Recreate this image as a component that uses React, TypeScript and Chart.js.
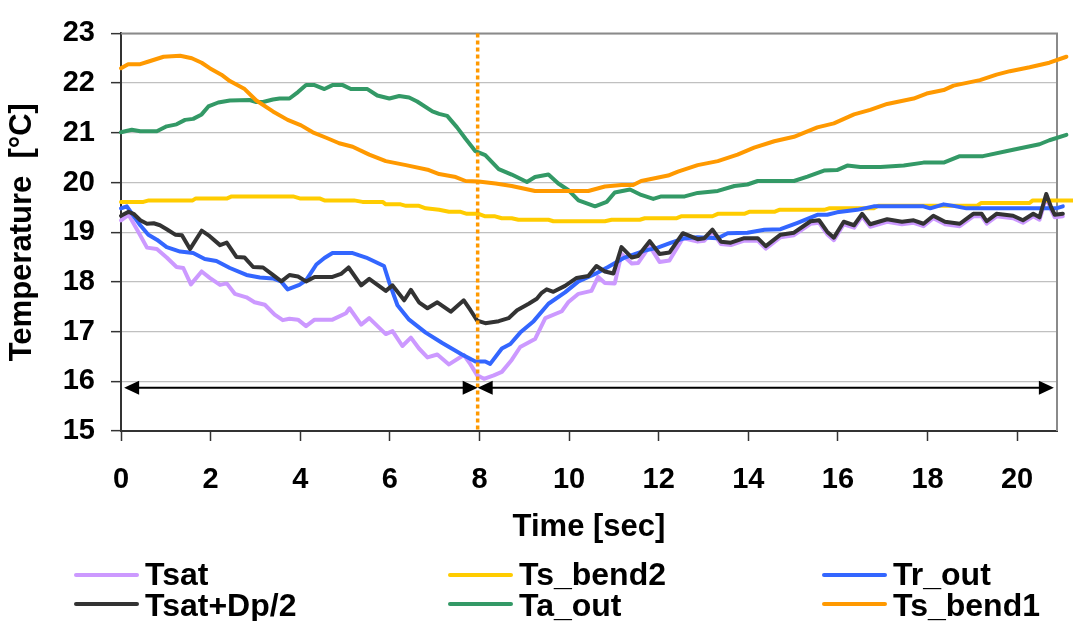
import React, { useEffect, useRef } from 'react';
import { Chart, registerables } from 'chart.js';

Chart.register(...registerables);

// ---------- data ----------
const X_TICKS = [0, 2, 4, 6, 8, 10, 12, 14, 16, 18, 20];
const Y_TICKS = [15, 16, 17, 18, 19, 20, 21, 22, 23];
const X_MIN = 0;
const X_MAX = 20.89;
const Y_MIN = 15;
const Y_MAX = 23;
const MARKER_T = 7.96;
const ARROW_Y = 15.87;
const ARROW_SPANS = [
  [0.07, 7.96],
  [7.96, 20.82],
];

const TSB1_T = [0, 0.16, 0.43, 0.6, 0.95, 1.32, 1.58, 1.8, 1.98, 2.24, 2.43, 2.76, 3.02, 3.39, 3.72, 4.02, 4.28, 4.58, 4.87, 5.17, 5.54, 5.91, 6.36, 6.87, 7.1, 7.47, 7.69, 7.98, 8.36, 8.72, 9.24, 9.69, 10.43, 10.8, 11.17, 11.43, 11.61, 12.21, 12.43, 12.87, 13.32, 13.76, 14.13, 14.58, 15.02, 15.54, 15.91, 16.36, 16.72, 17.1, 17.69, 17.98, 18.36, 18.58, 19.17, 19.54, 19.84, 20.28, 20.72, 21.1, 21.3];
const TSB1_V = [22.30, 22.38, 22.38, 22.43, 22.53, 22.55, 22.50, 22.41, 22.30, 22.17, 22.04, 21.88, 21.65, 21.43, 21.26, 21.15, 21.01, 20.90, 20.79, 20.72, 20.56, 20.43, 20.35, 20.25, 20.17, 20.11, 20.03, 20.02, 19.98, 19.93, 19.83, 19.83, 19.83, 19.92, 19.95, 19.95, 20.03, 20.14, 20.22, 20.35, 20.43, 20.56, 20.70, 20.83, 20.92, 21.11, 21.19, 21.37, 21.46, 21.58, 21.69, 21.79, 21.86, 21.95, 22.06, 22.17, 22.24, 22.32, 22.41, 22.53, 22.58];

const TA_T = [0, 0.24, 0.43, 0.8, 1.02, 1.24, 1.43, 1.61, 1.8, 1.95, 2.17, 2.43, 2.87, 3.02, 3.17, 3.39, 3.54, 3.76, 3.95, 4.13, 4.32, 4.54, 4.72, 4.95, 5.13, 5.5, 5.72, 5.99, 6.21, 6.43, 6.61, 6.95, 7.1, 7.28, 7.5, 7.69, 7.91, 8.13, 8.43, 8.72, 9.06, 9.24, 9.54, 9.76, 9.98, 10.21, 10.58, 10.84, 11.02, 11.36, 11.61, 11.88, 12.06, 12.58, 12.87, 13.32, 13.69, 13.98, 14.21, 15.02, 15.32, 15.69, 15.98, 16.21, 16.5, 16.95, 17.47, 17.91, 18.36, 18.72, 19.24, 19.91, 20.5, 20.72, 21.1, 21.3];
const TA_V = [21.01, 21.06, 21.03, 21.03, 21.13, 21.17, 21.26, 21.28, 21.37, 21.53, 21.61, 21.65, 21.66, 21.62, 21.62, 21.67, 21.69, 21.69, 21.82, 21.96, 21.96, 21.88, 21.96, 21.96, 21.88, 21.88, 21.75, 21.69, 21.74, 21.71, 21.63, 21.43, 21.38, 21.34, 21.11, 20.88, 20.63, 20.55, 20.27, 20.16, 20.01, 20.11, 20.16, 19.98, 19.85, 19.64, 19.52, 19.61, 19.80, 19.86, 19.75, 19.67, 19.72, 19.72, 19.79, 19.83, 19.93, 19.96, 20.03, 20.03, 20.12, 20.24, 20.25, 20.34, 20.31, 20.31, 20.34, 20.40, 20.40, 20.53, 20.53, 20.66, 20.77, 20.85, 20.96, 21.0];

const TSB2_T = [0, 0.5, 0.62, 1.6, 1.67, 2.37, 2.47, 3.84, 3.99, 4.43, 4.54, 5.2, 5.39, 5.84, 5.91, 6.24, 6.36, 6.65, 6.8, 7.1, 7.32, 7.58, 7.72, 7.98, 8.13, 8.35, 8.5, 8.72, 8.87, 9.54, 9.65, 10.8, 10.95, 11.58, 11.69, 12.39, 12.5, 13.2, 13.32, 13.91, 14.02, 14.58, 14.69, 15.69, 15.8, 16.8, 16.9, 19.1, 19.2, 20.28, 20.35, 21.3];
const TSB2_V = [19.61, 19.61, 19.64, 19.64, 19.68, 19.68, 19.72, 19.72, 19.68, 19.68, 19.64, 19.64, 19.61, 19.61, 19.56, 19.56, 19.53, 19.53, 19.48, 19.45, 19.41, 19.41, 19.37, 19.37, 19.32, 19.32, 19.28, 19.28, 19.25, 19.25, 19.22, 19.22, 19.25, 19.25, 19.28, 19.28, 19.32, 19.32, 19.37, 19.37, 19.41, 19.41, 19.45, 19.45, 19.48, 19.48, 19.53, 19.53, 19.59, 19.59, 19.64, 19.64];

const TR_T = [0, 0.13, 0.28, 0.43, 0.61, 0.8, 1.02, 1.32, 1.61, 1.87, 2.13, 2.43, 2.8, 3.1, 3.39, 3.57, 3.72, 3.98, 4.13, 4.36, 4.54, 4.72, 5.17, 5.47, 5.87, 5.99, 6.17, 6.43, 6.8, 7.17, 7.61, 7.91, 8.13, 8.24, 8.5, 8.69, 8.91, 9.21, 9.54, 9.91, 10.21, 10.58, 10.87, 11.24, 11.69, 11.98, 12.28, 12.58, 12.87, 13.32, 13.54, 13.98, 14.36, 14.72, 15.1, 15.54, 15.76, 15.98, 16.43, 16.8, 17.91, 18.06, 18.36, 18.58, 18.87, 20.87, 21.02, 21.12, 21.3];
const TR_V = [19.48, 19.52, 19.33, 19.14, 18.95, 18.85, 18.70, 18.61, 18.58, 18.46, 18.42, 18.28, 18.14, 18.09, 18.07, 18.01, 17.85, 17.94, 18.03, 18.35, 18.48, 18.58, 18.58, 18.49, 18.32, 17.98, 17.53, 17.24, 16.98, 16.77, 16.54, 16.40, 16.40, 16.35, 16.66, 16.75, 16.98, 17.21, 17.56, 17.79, 18.01, 18.16, 18.30, 18.49, 18.63, 18.69, 18.79, 18.88, 18.90, 18.88, 18.98, 18.99, 19.05, 19.06, 19.19, 19.35, 19.35, 19.40, 19.45, 19.52, 19.52, 19.48, 19.56, 19.53, 19.48, 19.48, 19.52, 19.37, 19.30];

const TDP_T = [0, 0.17, 0.28, 0.43, 0.58, 0.73, 0.87, 1.02, 1.21, 1.36, 1.54, 1.8, 1.98, 2.21, 2.36, 2.58, 2.76, 2.95, 3.17, 3.36, 3.58, 3.76, 3.95, 4.13, 4.32, 4.72, 4.91, 5.08, 5.36, 5.54, 5.91, 6.06, 6.32, 6.47, 6.65, 6.84, 7.06, 7.36, 7.65, 7.8, 7.95, 8.13, 8.43, 8.65, 8.84, 9.1, 9.28, 9.39, 9.5, 9.65, 9.91, 10.17, 10.43, 10.61, 10.8, 10.99, 11.17, 11.4, 11.54, 11.8, 12.02, 12.24, 12.54, 12.87, 13.02, 13.2, 13.39, 13.61, 13.91, 14.21, 14.39, 14.72, 15.02, 15.39, 15.58, 15.76, 15.91, 16.13, 16.36, 16.54, 16.72, 17.1, 17.43, 17.69, 17.91, 18.13, 18.39, 18.72, 19.02, 19.21, 19.32, 19.54, 19.91, 20.13, 20.36, 20.5, 20.65, 20.76, 20.84, 21.02, 21.12, 21.3];
const TDP_V = [19.33, 19.41, 19.37, 19.24, 19.17, 19.18, 19.14, 19.06, 18.95, 18.94, 18.66, 19.03, 18.92, 18.74, 18.79, 18.50, 18.49, 18.30, 18.29, 18.16, 18.01, 18.14, 18.11, 18.01, 18.10, 18.10, 18.16, 18.29, 17.93, 18.06, 17.82, 17.93, 17.63, 17.84, 17.59, 17.47, 17.59, 17.40, 17.63, 17.43, 17.22, 17.17, 17.21, 17.27, 17.43, 17.56, 17.66, 17.78, 17.85, 17.80, 17.92, 18.08, 18.12, 18.32, 18.21, 18.17, 18.70, 18.49, 18.52, 18.82, 18.56, 18.59, 18.98, 18.86, 18.88, 19.05, 18.81, 18.79, 18.88, 18.88, 18.72, 18.95, 18.99, 19.22, 19.24, 19.01, 18.89, 19.21, 19.14, 19.37, 19.16, 19.26, 19.21, 19.24, 19.17, 19.33, 19.21, 19.17, 19.37, 19.37, 19.22, 19.37, 19.33, 19.24, 19.37, 19.30, 19.77, 19.50, 19.35, 19.37, 19.28, 19.28];

const TSAT_T = [0, 0.17, 0.36, 0.58, 0.8, 1.02, 1.24, 1.39, 1.56, 1.8, 1.98, 2.21, 2.36, 2.54, 2.8, 2.98, 3.21, 3.43, 3.61, 3.76, 3.95, 4.13, 4.32, 4.72, 5.02, 5.1, 5.36, 5.54, 5.91, 6.06, 6.28, 6.47, 6.65, 6.84, 7.06, 7.32, 7.65, 7.8, 7.95, 8.1, 8.32, 8.5, 8.72, 8.91, 9.24, 9.47, 9.84, 9.98, 10.21, 10.5, 10.65, 10.8, 11.02, 11.17, 11.4, 11.54, 11.8, 12.02, 12.24, 12.54, 12.87, 13.02, 13.2, 13.39, 13.61, 13.91, 14.21, 14.39, 14.72, 15.02, 15.39, 15.58, 15.76, 15.91, 16.13, 16.36, 16.54, 16.72, 17.1, 17.43, 17.69, 17.91, 18.13, 18.39, 18.72, 19.02, 19.21, 19.32, 19.54, 19.91, 20.13, 20.36, 20.5, 20.65, 20.76, 20.84, 21.02, 21.12, 21.3];
const TSAT_V = [19.24, 19.35, 19.05, 18.69, 18.66, 18.49, 18.30, 18.28, 17.95, 18.21, 18.08, 17.94, 17.97, 17.76, 17.69, 17.59, 17.54, 17.34, 17.23, 17.26, 17.24, 17.11, 17.24, 17.24, 17.37, 17.47, 17.14, 17.27, 16.95, 17.01, 16.71, 16.88, 16.66, 16.48, 16.54, 16.34, 16.53, 16.34, 16.12, 16.05, 16.12, 16.19, 16.43, 16.69, 16.85, 17.27, 17.41, 17.59, 17.76, 17.82, 18.10, 17.98, 17.97, 18.56, 18.37, 18.38, 18.72, 18.40, 18.43, 18.88, 18.81, 18.83, 19.00, 18.76, 18.74, 18.83, 18.83, 18.67, 18.90, 18.94, 19.17, 19.19, 18.96, 18.84, 19.16, 19.09, 19.32, 19.11, 19.21, 19.16, 19.19, 19.12, 19.28, 19.16, 19.12, 19.32, 19.32, 19.17, 19.32, 19.28, 19.19, 19.32, 19.25, 19.70, 19.45, 19.30, 19.32, 19.23, 19.23];

// ---------- styles ----------
const C_TSAT = '#CC99FF';
const C_TSB2 = '#FFCC00';
const C_TR = '#3366FF';
const C_TDP = '#333333';
const C_TA = '#339966';
const C_TSB1 = '#FF9900';
const FONT = '"Liberation Sans", Arial, Helvetica, sans-serif';

const pts = (t: number[], v: number[]) => t.map((x, i) => ({ x, y: v[i] }));

const LEGEND = [
  { label: 'Tsat', color: C_TSAT, col: 0, row: 0 },
  { label: 'Ts_bend2', color: C_TSB2, col: 1, row: 0 },
  { label: 'Tr_out', color: C_TR, col: 2, row: 0 },
  { label: 'Tsat+Dp/2', color: C_TDP, col: 0, row: 1 },
  { label: 'Ta_out', color: C_TA, col: 1, row: 1 },
  { label: 'Ts_bend1', color: C_TSB1, col: 2, row: 1 },
];

const overlay = {
  id: 'overlay',
  beforeDatasetsDraw(chart: any) {
    const { ctx, chartArea: a } = chart;
    ctx.save();
    ctx.strokeStyle = '#8a8a8a';
    ctx.lineWidth = 2;
    ctx.beginPath();
    ctx.moveTo(a.left, a.top);
    ctx.lineTo(a.right, a.top);
    ctx.lineTo(a.right, a.bottom);
    ctx.stroke();
    ctx.restore();
  },
  afterDatasetsDraw(chart: any) {
    const { ctx, chartArea: a, scales } = chart;
    const x = scales.x;
    const y = scales.y;
    ctx.save();
    const mx = x.getPixelForValue(MARKER_T);
    ctx.strokeStyle = C_TSB1;
    ctx.lineWidth = 3.5;
    ctx.setLineDash([4, 3]);
    ctx.beginPath();
    ctx.moveTo(mx, a.top);
    ctx.lineTo(mx, a.bottom);
    ctx.stroke();
    ctx.setLineDash([]);
    const ay = y.getPixelForValue(ARROW_Y);
    const hl = 15;
    const hw = 7;
    ctx.strokeStyle = '#000';
    ctx.fillStyle = '#000';
    ctx.lineWidth = 2;
    ARROW_SPANS.forEach(([t1, t2]) => {
      const x1 = x.getPixelForValue(t1);
      const x2 = x.getPixelForValue(t2);
      ctx.beginPath();
      ctx.moveTo(x1 + hl - 2, ay);
      ctx.lineTo(x2 - hl + 2, ay);
      ctx.stroke();
      ctx.beginPath();
      ctx.moveTo(x1, ay);
      ctx.lineTo(x1 + hl, ay - hw);
      ctx.lineTo(x1 + hl, ay + hw);
      ctx.closePath();
      ctx.fill();
      ctx.beginPath();
      ctx.moveTo(x2, ay);
      ctx.lineTo(x2 - hl, ay - hw);
      ctx.lineTo(x2 - hl, ay + hw);
      ctx.closePath();
      ctx.fill();
    });
    ctx.restore();
  },
  afterDraw(chart: any) {
    const { ctx } = chart;
    const colX = [75, 449, 823];
    const lineY = [575, 604];
    const baseY = [585, 616];
    ctx.save();
    ctx.font = `bold 32px ${FONT}`;
    ctx.textBaseline = 'alphabetic';
    ctx.textAlign = 'left';
    LEGEND.forEach((it) => {
      const x0 = colX[it.col];
      ctx.strokeStyle = it.color;
      ctx.lineWidth = 4;
      ctx.lineCap = 'round';
      ctx.beginPath();
      ctx.moveTo(x0 + 1, lineY[it.row]);
      ctx.lineTo(x0 + 62, lineY[it.row]);
      ctx.stroke();
      ctx.fillStyle = '#000';
      ctx.fillText(it.label, x0 + 70, baseY[it.row]);
    });
    ctx.restore();
  },
};

export default function App() {
  const ref = useRef<HTMLCanvasElement | null>(null);

  useEffect(() => {
    if (!ref.current) return;
    const mk = (label: string, t: number[], v: number[], color: string) => ({
      label,
      data: pts(t, v),
      borderColor: color,
      backgroundColor: color,
      borderWidth: 4,
      pointRadius: 0,
      tension: 0,
      fill: false,
      clip: false as any,
      borderJoinStyle: 'round' as const,
      borderCapStyle: 'round' as const,
    });
    const chart = new Chart(ref.current, {
      type: 'line',
      data: {
        datasets: [
          mk('Ts_bend1', TSB1_T, TSB1_V, C_TSB1),
          mk('Ta_out', TA_T, TA_V, C_TA),
          mk('Tsat+Dp/2', TDP_T, TDP_V, C_TDP),
          mk('Tr_out', TR_T, TR_V, C_TR),
          mk('Ts_bend2', TSB2_T, TSB2_V, C_TSB2),
          mk('Tsat', TSAT_T, TSAT_V, C_TSAT),
        ],
      },
      options: {
        responsive: false,
        animation: false,
        devicePixelRatio: 1,
        layout: { padding: { left: 0, top: 17, right: 16, bottom: 70 } },
        plugins: {
          legend: { display: false },
          tooltip: { enabled: false },
        },
        scales: {
          x: {
            type: 'linear',
            min: X_MIN,
            max: X_MAX,
            afterBuildTicks: (s: any) => {
              s.ticks = X_TICKS.map((v) => ({ value: v }));
            },
            afterFit: (s: any) => {
              s.height = 120;
            },
            grid: {
              drawOnChartArea: false,
              drawTicks: true,
              tickLength: 10,
              tickColor: '#333333',
              tickWidth: 1.5,
            },
            border: { color: '#333333', width: 2 },
            ticks: {
              color: '#000',
              padding: 22,
              maxRotation: 0,
              autoSkip: false,
              font: { family: FONT, size: 29, weight: 'bold' },
            },
            title: {
              display: true,
              text: 'Time [sec]',
              color: '#000',
              padding: { top: 0, bottom: 5 },
              font: { family: FONT, size: 31, weight: 'bold' },
            },
          },
          y: {
            type: 'linear',
            min: Y_MIN,
            max: Y_MAX,
            afterBuildTicks: (s: any) => {
              s.ticks = Y_TICKS.map((v) => ({ value: v }));
            },
            afterFit: (s: any) => {
              s.width = 121;
            },
            grid: {
              color: '#c0c0c0',
              lineWidth: 1.3,
              drawTicks: true,
              tickLength: 10,
              tickColor: '#333333',
              tickWidth: 1.5,
            },
            border: { color: '#333333', width: 2 },
            ticks: {
              color: '#000',
              padding: 16,
              autoSkip: false,
              font: { family: FONT, size: 29, weight: 'bold' },
            },
            title: {
              display: true,
              text: 'Temperature  [°C]',
              color: '#000',
              padding: { top: 4, bottom: 0 },
              font: { family: FONT, size: 31, weight: 'bold' },
            },
          },
        },
      },
      plugins: [overlay],
    });
    return () => chart.destroy();
  }, []);

  return (
    <div style={{ position: 'absolute', left: 0, top: 0, width: 1073, height: 621, background: '#fff', overflow: 'hidden' }}>
      <canvas ref={ref} width={1073} height={621} style={{ width: 1073, height: 621, display: 'block' }} />
    </div>
  );
}
